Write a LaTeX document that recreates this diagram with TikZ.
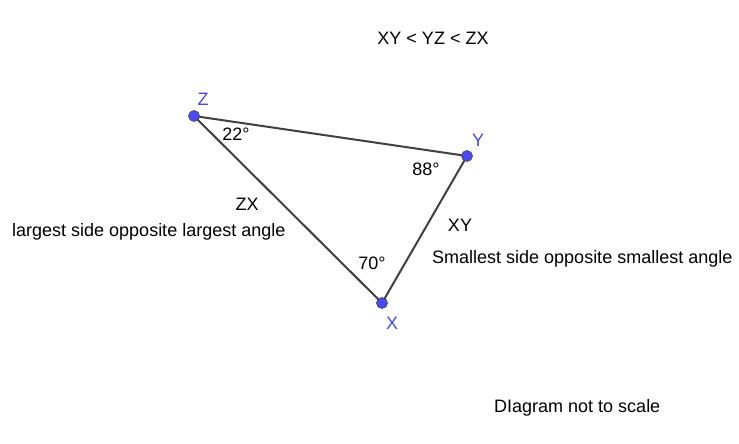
\documentclass[tikz,border=0pt]{standalone}
\usepackage{fontspec}
\setmainfont{Liberation Sans}
\definecolor{edgegray}{HTML}{404040}
\definecolor{ptblue}{HTML}{4A4AF0}
\definecolor{lblblue}{HTML}{4A4AE0}
\tikzset{
  txt/.style={inner sep=0pt, font=\fontsize{18}{21}\selectfont, text=black},
  ptlbl/.style={inner sep=0pt, font=\fontsize{18}{21}\selectfont, text=lblblue, anchor=base},
  pt/.style={circle, fill=ptblue, draw=black!70, line width=0.7pt, minimum size=11pt, inner sep=0pt},
  side/.style={draw=edgegray, line width=2pt}
}
\begin{document}
\begin{tikzpicture}[x=1pt,y=-1pt]
\useasboundingbox (0,0) rectangle (739,444);
\fill[white] (0,0) rectangle (739,444);
\coordinate (Zc) at (194,116);
\coordinate (Yc) at (467,156);
\coordinate (Xc) at (382,303);
\draw[side] (Zc) -- (Yc) -- (Xc) -- cycle;
\node[pt] (Z) at (Zc) {};
\node[pt] (Y) at (Yc) {};
\node[pt] (X) at (Xc) {};
\node[ptlbl] (zl) at (203,106) {Z};
\node[ptlbl] (yl) at (478,146) {Y};
\node[ptlbl] (xl) at (392,329) {X};
\node[txt, anchor=base] (order) at (433,44.5) {XY < YZ < ZX};
\node[txt, anchor=base] (a22) at (236,140) {22°};
\node[txt, anchor=base] (a88) at (426,175) {88°};
\node[txt, anchor=base] (a70) at (372,269) {70°};
\node[txt, anchor=base] (zx) at (247,210) {ZX};
\node[txt, anchor=base west] (large) at (12,236) {largest side opposite largest angle};
\node[txt, anchor=base] (xy) at (460,231) {XY};
\node[txt, anchor=base west] (small) at (432,263) {Smallest side opposite smallest angle};
\node[txt, anchor=base west] (note) at (494,412) {DIagram not to scale};
\end{tikzpicture}
\end{document}
